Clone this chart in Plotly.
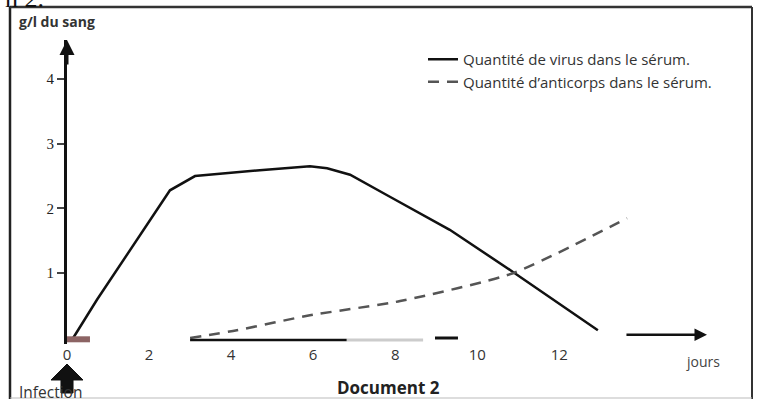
import plotly.graph_objects as go

# ---- data (days, g/l) ----
virus_days = [0.15, 0.73, 2.51, 3.12, 4.70, 5.92, 6.34, 6.90, 7.87, 9.33, 10.87, 12.94]
virus_vals = [0.00, 0.59, 2.28, 2.50, 2.59, 2.65, 2.62, 2.52, 2.18, 1.67, 1.02, 0.12]
anti_days = [3.0, 4.14, 5.92, 8.12, 10.87, 13.65]
anti_vals = [0.00, 0.12, 0.35, 0.57, 1.00, 1.85]
x_ticks = [0, 2, 4, 6, 8, 10, 12]
y_ticks = [1, 2, 3, 4]
legend_names = ["Quantité de virus dans le sérum.", "Quantité d’anticorps dans le sérum."]

W, H = 759, 402
L, R, T, B = 67, 707, 40, 344
def PX(x):
    return (x - L) / (R - L)
def PY(y):
    return (B - y) / (B - T)

fig = go.Figure()
fig.add_trace(go.Scatter(x=virus_days, y=virus_vals, mode="lines", name=legend_names[0],
                         line=dict(color="#111111", width=2.5)))
fig.add_trace(go.Scatter(x=anti_days, y=anti_vals, mode="lines", name=legend_names[1],
                         line=dict(color="#555555", width=2.5, dash="11px,8px", shape="spline", smoothing=0.6)))

sans = "Open Sans"
shapes = []
# frame
shapes += [
    dict(type="line", xref="paper", yref="paper", x0=PX(10), x1=PX(10), y0=PY(7), y1=PY(399), line=dict(color="#222", width=2.5)),
    dict(type="line", xref="paper", yref="paper", x0=PX(752), x1=PX(752), y0=PY(7), y1=PY(399), line=dict(color="#333", width=2)),
    dict(type="line", xref="paper", yref="paper", x0=PX(10), x1=PX(752), y0=PY(7), y1=PY(7), line=dict(color="#333", width=2.5)),
    dict(type="line", xref="paper", yref="paper", x0=PX(10), x1=PX(752), y0=PY(398), y1=PY(398), line=dict(color="#bbbbbb", width=1)),
]
# broken x-axis line (scan look)
shapes += [
    dict(type="line", xref="x", yref="y", x0=0, x1=0.56, y0=-0.02, y1=-0.02, line=dict(color="#8c6464", width=6)),
    dict(type="line", xref="x", yref="y", x0=3.0, x1=6.82, y0=-0.03, y1=-0.03, line=dict(color="#111", width=2.5)),
    dict(type="line", xref="x", yref="y", x0=6.82, x1=8.68, y0=-0.03, y1=-0.03, line=dict(color="#cccccc", width=3)),
    dict(type="line", xref="x", yref="y", x0=8.97, x1=9.53, y0=0.0, y1=0.0, line=dict(color="#111", width=3)),
]
# infection block arrow
pts = [(67, 364), (51, 380), (61, 380), (61, 393), (73, 393), (73, 380), (83, 380)]
path = "M " + " L ".join(f"{PX(a):.4f},{PY(b):.4f}" for a, b in pts) + " Z"
shapes.append(dict(type="path", xref="paper", yref="paper", path=path, fillcolor="#111", line=dict(color="#111", width=1)))

annotations = [
    dict(x=0, y=4.6, ax=0, ay=4.2, xref="x", yref="y", axref="x", ayref="y", text="", showarrow=True,
         arrowhead=2, arrowsize=1, arrowwidth=3, arrowcolor="#111"),
    dict(x=15.6, y=0.05, ax=13.6, ay=0.05, xref="x", yref="y", axref="x", ayref="y", text="", showarrow=True,
         arrowhead=2, arrowsize=1, arrowwidth=2.5, arrowcolor="#111"),
    dict(x=PX(17), y=PY(21), xref="paper", yref="paper", xanchor="left", yanchor="middle", showarrow=False,
         text="<b>g/l du sang</b>", font=dict(family=sans, size=14, color="#333")),
    dict(x=PX(703), y=PY(361), xref="paper", yref="paper", xanchor="center", yanchor="middle", showarrow=False,
         text="jours", font=dict(family=sans, size=14, color="#444")),
    dict(x=PX(388), y=PY(387), xref="paper", yref="paper", xanchor="center", yanchor="middle", showarrow=False,
         text="<b>Document 2</b>", font=dict(family=sans, size=17, color="#222")),
    dict(x=PX(50), y=PY(392), xref="paper", yref="paper", xanchor="center", yanchor="middle", showarrow=False,
         text="Infection", font=dict(family=sans, size=15.5, color="#333")),
    dict(x=PX(3), y=PY(15), xref="paper", yref="paper", xanchor="left", yanchor="bottom", showarrow=False,
         text="n 2.", font=dict(family="Liberation Serif", size=26, color="#111")),
]

fig.update_layout(
    width=W, height=H,
    margin=dict(l=L, r=W - R, t=T, b=H - B),
    paper_bgcolor="white", plot_bgcolor="white",
    showlegend=True,
    legend=dict(x=PX(423), y=PY(43), xanchor="left", yanchor="top", bgcolor="rgba(0,0,0,0)",
                itemwidth=30, font=dict(family=sans, size=15, color="#333"), tracegroupgap=0),
    xaxis=dict(range=[0, 15.6], tickvals=x_ticks, ticktext=[str(v) for v in x_ticks], showgrid=False,
               zeroline=False, showline=False, ticks="", tickfont=dict(family=sans, size=15, color="#333"),
               ticklabelstandoff=0),
    yaxis=dict(range=[-0.0926, 4.6], tickvals=y_ticks,
               showgrid=False, zeroline=False, showline=True, linecolor="#111", linewidth=3,
               ticks="outside", ticklen=7, tickwidth=1.5, tickcolor="#444",
               tickfont=dict(family="Liberation Serif", size=15, color="#222")),
    shapes=shapes, annotations=annotations,
)

fig.write_html("out.html", config={"displayModeBar": False},
               post_script="document.body.style.margin='0';document.body.style.overflow='hidden';")
